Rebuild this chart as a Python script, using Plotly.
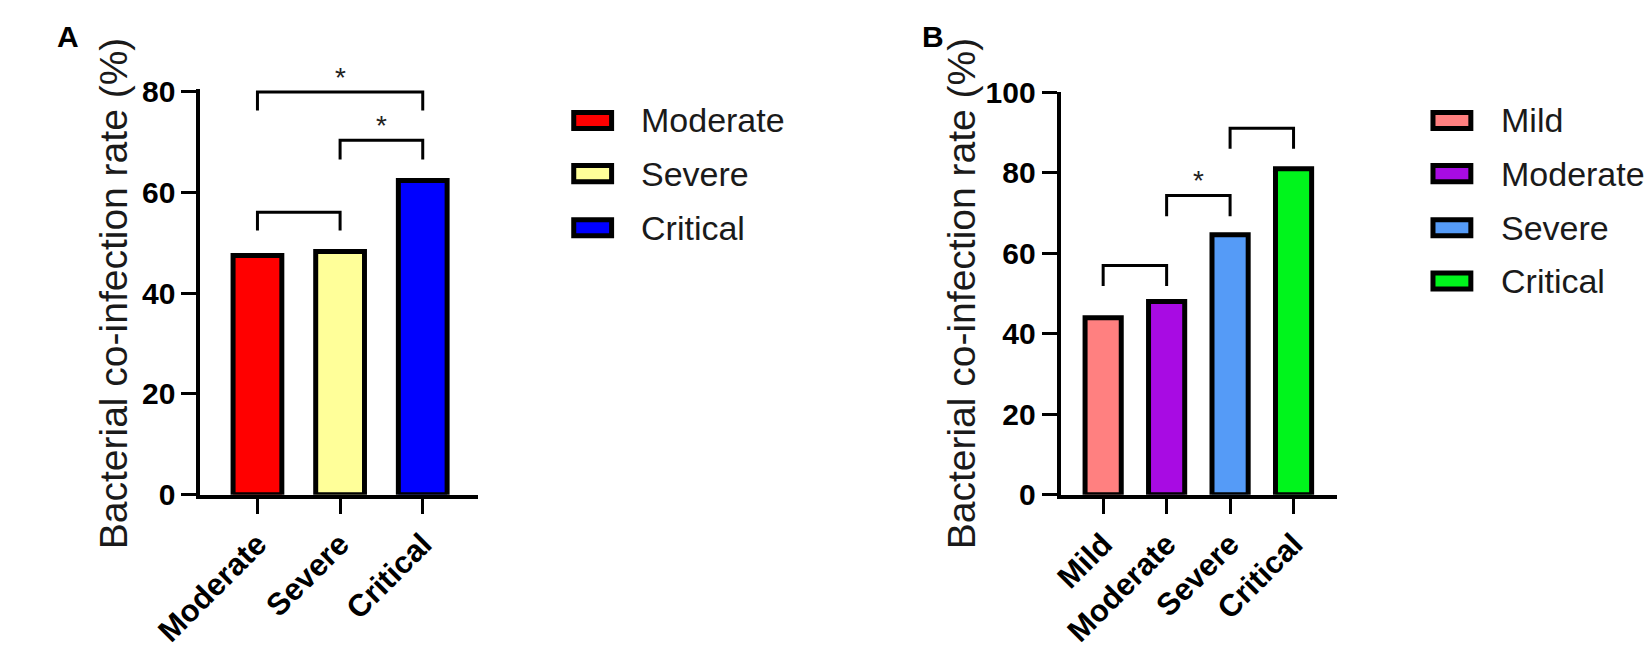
import plotly.graph_objects as go

# panel A
a_groups = ["Moderate", "Severe", "Critical"]
a_rates = [47.5, 48.3, 62.4]
a_colors = ["#FF0000", "#FFFF99", "#0000FF"]
# (left bar, right bar, bracket top, leg end, label)
a_brackets = [(0, 1, 56.1, 52.5, ""), (1, 2, 70.4, 66.6, "*"), (0, 2, 80.0, 76.3, "*")]
a_yticks = [0, 20, 40, 60, 80]

# panel B
b_groups = ["Mild", "Moderate", "Severe", "Critical"]
b_rates = [44.0, 48.0, 64.6, 81.0]
b_colors = ["#FF8080", "#A80BE3", "#559BF7", "#00F51C"]
b_brackets = [(0, 1, 57.0, 51.9, ""), (1, 2, 74.4, 69.2, "*"), (2, 3, 91.1, 86.0, "")]
b_yticks = [0, 20, 40, 60, 80, 100]

ytitle = "Bacterial co-infection rate (%)"

W, H = 1649, 656
FONT = "Liberation Sans"


def fx(px):
    return px / W


def fy(py):
    return 1 - py / H


fig = go.Figure()

fig.add_trace(go.Bar(x=list(range(len(a_groups))), y=a_rates, width=0.59,
                     marker=dict(color=a_colors, line=dict(color="black", width=5)),
                     xaxis="x", yaxis="y", hoverinfo="skip"))
fig.add_trace(go.Bar(x=list(range(len(b_groups))), y=b_rates, width=0.57,
                     marker=dict(color=b_colors, line=dict(color="black", width=5)),
                     xaxis="x2", yaxis="y2", hoverinfo="skip"))

axis_common = dict(showline=True, linewidth=4, linecolor="black", ticks="outside",
                   ticklen=15, tickwidth=3, tickcolor="black", showgrid=False,
                   zeroline=False, fixedrange=True)
yfont = dict(family=FONT, size=30, color="black", weight="bold")
xfont = dict(family=FONT, size=31, color="black", weight="bold")

fig.update_layout(
    width=W, height=H,
    margin=dict(l=0, r=0, t=0, b=0),
    plot_bgcolor="white", paper_bgcolor="white",
    showlegend=False,
    xaxis=dict(axis_common, domain=[fx(157), fx(443)], range=[-0.69, 2.67],
               tickvals=list(range(len(a_groups))), ticktext=a_groups,
               tickangle=-45, tickfont=xfont, anchor="y"),
    yaxis=dict(axis_common, domain=[fy(504), fy(77.35)], range=[0, 80.5],
               tickvals=a_yticks, tickfont=yfont, anchor="x"),
    xaxis2=dict(axis_common, domain=[fx(1043), fx(1328)], range=[-0.67, 3.69],
                tickvals=list(range(len(b_groups))), ticktext=b_groups,
                tickangle=-45, tickfont=xfont, anchor="y2"),
    yaxis2=dict(axis_common, domain=[fy(504), fy(80.5)], range=[0, 100],
                tickvals=b_yticks, tickfont=yfont, anchor="x2"),
)

# significance brackets
for xr, yr, brackets in [("x", "y", a_brackets), ("x2", "y2", b_brackets)]:
    for i, j, top, leg, lab in brackets:
        fig.add_shape(type="path", xref=xr, yref=yr,
                      path=f"M {i},{leg} L {i},{top} L {j},{top} L {j},{leg}",
                      line=dict(color="black", width=3))
        if lab:
            fig.add_annotation(x=(i + j) / 2, y=top, xref=xr, yref=yr, text=lab,
                               showarrow=False, yanchor="bottom", yshift=-3,
                               font=dict(family=FONT, size=28, color="#222"))

# y titles and panel letters
for cx, letter, lx in [(67.5, "A", 7), (941, "B", 898)]:
    fig.add_annotation(x=fx(cx), y=fy(292.4), xref="paper", yref="paper",
                       text=ytitle, textangle=-90, showarrow=False,
                       xanchor="center", yanchor="middle",
                       font=dict(family=FONT, size=39, color="#1a1a1a"))
    fig.add_annotation(x=fx(lx), y=fy(2), xref="paper", yref="paper",
                       text=letter, showarrow=False, xanchor="left", yanchor="top",
                       font=dict(family=FONT, size=30, color="black", weight="bold"))

# legends drawn by hand to get the wide boxes
rows_y = [110, 166, 223, 279]
for groups, colors, bx, tx in [(a_groups, a_colors, 541.5, 609), (b_groups, b_colors, 1426.5, 1495)]:
    for k, (g, c) in enumerate(zip(groups, colors)):
        cy = rows_y[k]
        fig.add_shape(type="rect", xref="paper", yref="paper",
                      x0=fx(bx), x1=fx(bx + 39), y0=fy(cy + 8.5), y1=fy(cy - 8.5),
                      fillcolor=c, line=dict(color="black", width=5))
        fig.add_annotation(x=fx(tx), y=fy(cy), xref="paper", yref="paper",
                           text=g, showarrow=False, xanchor="left", yanchor="middle",
                           font=dict(family=FONT, size=34, color="#1a1a1a"))

fig.write_html("out.html", config={"displayModeBar": False},
               post_script="document.body.style.margin='0';document.body.style.overflow='hidden';")
